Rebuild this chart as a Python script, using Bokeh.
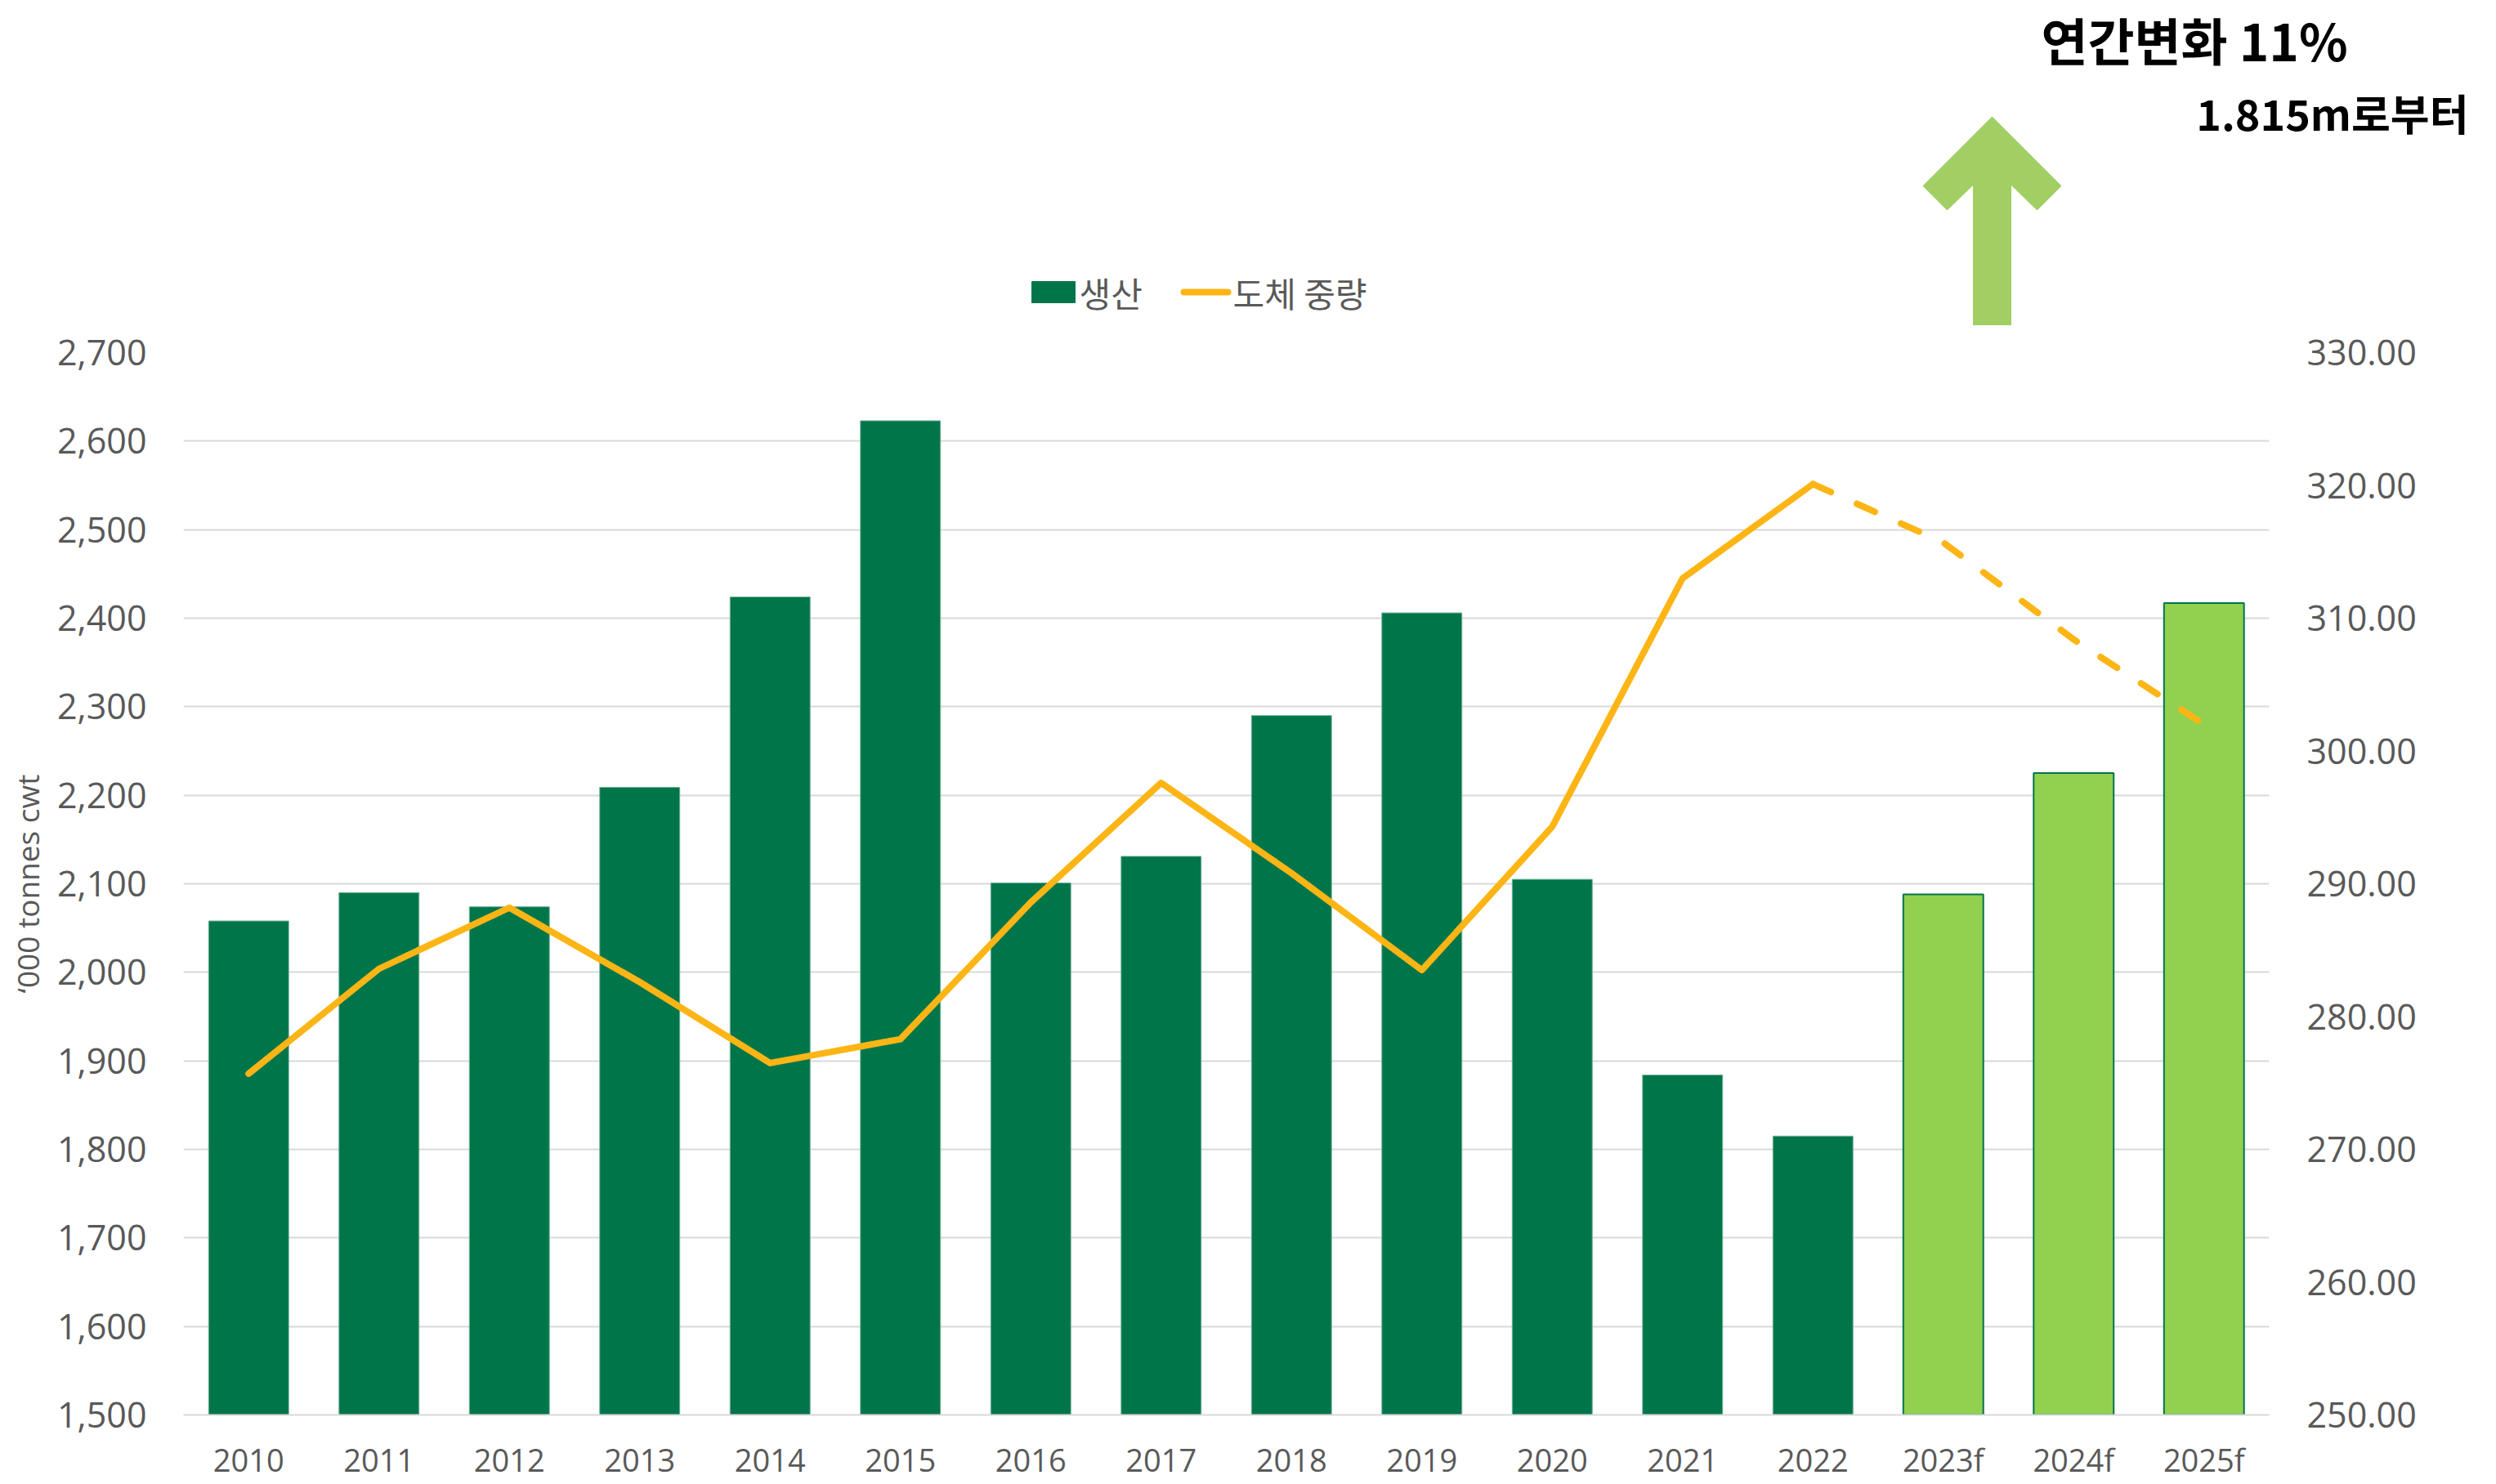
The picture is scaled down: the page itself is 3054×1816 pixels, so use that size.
from bokeh.plotting import figure
from bokeh.models import (Range1d, FactorRange, LinearAxis, FixedTicker,
                          NumeralTickFormatter, ColumnDataSource)
from bokeh.layouts import column
from bokeh.core.properties import value
from bokeh.embed import file_html
from bokeh.resources import INLINE

# ---------------- data ----------------
categories = ["2010", "2011", "2012", "2013", "2014", "2015", "2016", "2017",
              "2018", "2019", "2020", "2021", "2022", "2023f", "2024f", "2025f"]
production = [2058, 2090, 2074, 2209, 2424, 2623, 2101, 2131,
              2290, 2406, 2105, 1884, 1815, 2088, 2225, 2417]
carcase_weight = [275.7, 283.6, 288.2, 282.6, 276.5, 278.3, 288.6, 297.6,
                  290.8, 283.5, 294.3, 313.0, 320.1, 315.7, 308.4, 302.0]
is_forecast = [False] * 13 + [True] * 3
series_names = ["생산", "도체 중량"]
left_ticks = [1500, 1600, 1700, 1800, 1900, 2000, 2100, 2200, 2300, 2400, 2500, 2600, 2700]
right_ticks = [250, 260, 270, 280, 290, 300, 310, 320, 330]
y_axis_title = "‘000 tonnes cwt"
headline = "연간변화 11%"
subline = "1.815m로부터"

# ---------------- styles ----------------
DARK = "#00754A"
LIGHT = "#92D050"
GOLD = "#FDB515"
ARROW = "#A1CF64"
TXT = "#595959"
GRID = "#D9D9D9"
W = 3040
TOP_H = 398
MAIN_H = 1816 - TOP_H

# ---------------- top panel: headline, arrow, legend ----------------
top = figure(width=W, height=TOP_H, x_range=Range1d(0, W), y_range=Range1d(TOP_H, 0),
             x_axis_type=None, y_axis_type=None, min_border=0,
             toolbar_location=None, output_backend="svg")
top.frame_align = False
top.grid.visible = False
top.outline_line_color = None

ax = [2437, 2520, 2492, 2459, 2459, 2415, 2415, 2382, 2354]
ay = [144, 227, 255, 223, 397, 397, 223, 255, 227]
top.patch(ax, ay, fill_color=ARROW, line_color=ARROW, line_width=3, line_join="round")

top.text(x=[2497], y=[47], text=[headline], text_font=value("Noto Sans CJK KR"),
         text_font_style="bold", text_font_size="62px", text_color="black",
         text_baseline="middle", text_align="left")
top.text(x=[3020], y=[137], text=[subline], text_font=value("Noto Sans CJK KR"),
         text_font_style="bold", text_font_size="52px", text_color="black",
         text_baseline="middle", text_align="right")

# legend (drawn in the header band)
top.quad(left=[1262], right=[1315], top=[344], bottom=[370], fill_color=DARK, line_color=DARK)
top.line(x=[1448, 1502], y=[357, 357], line_color=GOLD, line_width=8, line_cap="round")
top.text(x=[1320, 1508], y=[357, 357], text=series_names,
         text_font=value("Noto Sans CJK KR"), text_font_size="42px", text_color=TXT,
         text_baseline="middle", text_align="left")

# ---------------- main chart ----------------
p = figure(width=W, height=MAIN_H, x_range=FactorRange(*categories, range_padding=0),
           y_range=Range1d(left_ticks[0], left_ticks[-1]), toolbar_location=None,
           output_backend="svg",
           min_border_left=224, min_border_right=W - 2776,
           min_border_top=33, min_border_bottom=85)
p.frame_align = False
p.extra_y_ranges = {"right": Range1d(right_ticks[0], right_ticks[-1])}
p.outline_line_color = None
p.background_fill_color = "white"
p.xgrid.visible = False
p.ygrid.grid_line_color = GRID
p.ygrid.grid_line_width = 2
p.ygrid.ticker = FixedTicker(ticks=left_ticks)

src = ColumnDataSource(dict(
    x=categories, top=production,
    fill=[LIGHT if f else DARK for f in is_forecast],
    edge=[DARK if f else "#6FB298" for f in is_forecast],
    lw=[2 if f else 1 for f in is_forecast],
))
p.vbar(x="x", top="top", bottom=left_ticks[0], width=0.614, source=src,
       fill_color="fill", line_color="edge", line_width="lw")

n_hist = is_forecast.index(True)
p.line(x=categories[:n_hist], y=carcase_weight[:n_hist], y_range_name="right",
       line_color=GOLD, line_width=8, line_join="round", line_cap="round")
p.line(x=categories[n_hist - 1:], y=carcase_weight[n_hist - 1:], y_range_name="right",
       line_color=GOLD, line_width=8, line_dash="24 35", line_cap="round", line_join="round")

# left axis
yl = p.yaxis[0]
yl.ticker = FixedTicker(ticks=left_ticks)
yl.formatter = NumeralTickFormatter(format="0,0")
yl.axis_label = y_axis_title
yl.axis_label_text_font = "Open Sans"
yl.axis_label_text_font_style = "normal"
yl.axis_label_text_font_size = "37px"
yl.axis_label_text_color = TXT
yl.axis_label_standoff = 8
yl.major_label_text_font = "Open Sans"
yl.major_label_text_font_size = "43px"
yl.major_label_text_color = TXT
yl.major_label_standoff = 45

# right axis
yr = LinearAxis(y_range_name="right", ticker=FixedTicker(ticks=right_ticks),
                formatter=NumeralTickFormatter(format="0.00"))
yr.major_label_text_font = "Open Sans"
yr.major_label_text_font_size = "43px"
yr.major_label_text_color = TXT
yr.major_label_standoff = 46
p.add_layout(yr, "right")

# bottom axis
xa = p.xaxis[0]
xa.major_label_text_font = "Open Sans"
xa.major_label_text_font_size = "38px"
xa.major_label_text_color = TXT
xa.major_label_standoff = 28
xa.axis_line_color = GRID
xa.axis_line_width = 2

for a in [yl, yr, xa]:
    a.major_tick_line_color = None
    a.minor_tick_line_color = None
    a.major_tick_out = 0
    a.major_tick_in = 0
for a in [yl, yr]:
    a.axis_line_color = None

layout = column(top, p, spacing=0)
open("out.html", "w").write(file_html(layout, INLINE))
